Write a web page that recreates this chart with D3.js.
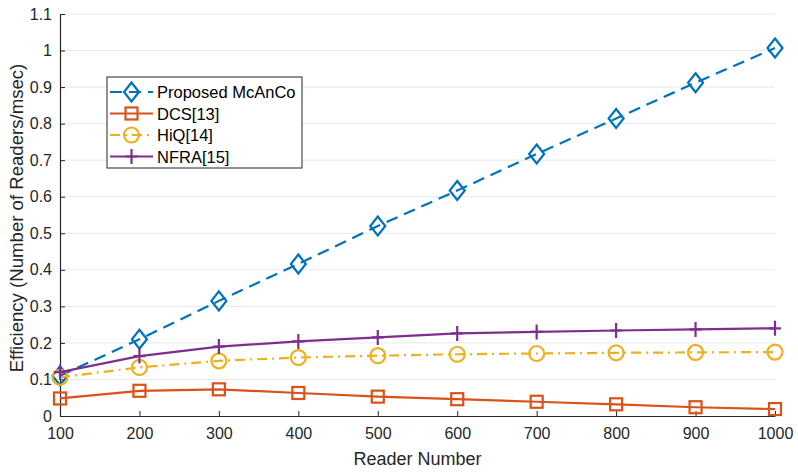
<!DOCTYPE html>
<html>
<head>
<meta charset="utf-8">
<script src="https://cdn.jsdelivr.net/npm/d3@7"></script>
<style>
  body { margin: 0; background: #fff; }
  svg { font-family: "Liberation Sans", Arial, sans-serif; }
</style>
</head>
<body>
<svg id="chart" width="798" height="473"></svg>
<script>
const readers = [100, 200, 300, 400, 500, 600, 700, 800, 900, 1000]
const mcanco = [0.11, 0.21, 0.315, 0.416, 0.52, 0.617, 0.717, 0.814, 0.912, 1.007]
const dcs = [0.048, 0.069, 0.073, 0.063, 0.053, 0.046, 0.039, 0.032, 0.024, 0.019]
const hiq = [0.106, 0.133, 0.151, 0.160, 0.165, 0.169, 0.171, 0.173, 0.174, 0.175]
const nfra = [0.12, 0.164, 0.19, 0.204, 0.215, 0.226, 0.23, 0.234, 0.237, 0.24]
const yTicks = [0, 0.1, 0.2, 0.3, 0.4, 0.5, 0.6, 0.7, 0.8, 0.9, 1, 1.1]

const series = [
  { name: 'Proposed McAnCo', values: mcanco, color: '#0072BD', dash: '12,7', marker: 'diamond' },
  { name: 'DCS[13]', values: dcs, color: '#D95319', dash: null, marker: 'square' },
  { name: 'HiQ[14]', values: hiq, color: '#EDB120', dash: '10,5,2,5', marker: 'circle' },
  { name: 'NFRA[15]', values: nfra, color: '#7E2F8E', dash: null, marker: 'plus' }
]

const margin = { left: 60, right: 23, top: 14, bottom: 57 }
const width = 798, height = 473
const svg = d3.select('#chart')

const x = d3.scaleLinear().domain([100, 1000]).range([margin.left, width - margin.right])
const y = d3.scaleLinear().domain([0, 1.1]).range([height - margin.bottom, margin.top])

// grid horizontal
svg.append('g')
  .selectAll('line')
  .data(yTicks.slice(1))
  .join('line')
  .attr('x1', x(100)).attr('x2', x(1000))
  .attr('y1', d => y(d)).attr('y2', d => y(d))
  .attr('stroke', '#e8e8e8')
  .attr('stroke-width', 1)

const xAxis = svg.append('g')
  .attr('transform', `translate(0,${y(0)})`)
  .call(d3.axisBottom(x).tickValues(readers).tickFormat(d3.format('d')).tickSizeInner(-5).tickSizeOuter(0).tickPadding(12))
const yAxis = svg.append('g')
  .attr('transform', `translate(${x(100)},0)`)
  .call(d3.axisLeft(y).tickValues(yTicks).tickFormat(d3.format('~g')).tickSizeInner(-5).tickSizeOuter(0).tickPadding(8))

for (const ax of [xAxis, yAxis]) {
  ax.select('.domain').attr('stroke', '#262626').attr('stroke-width', 1.2)
  ax.selectAll('.tick line').attr('stroke', '#262626')
  ax.selectAll('.tick text').attr('fill', '#262626').style('font-size', '16px')
}

svg.append('text')
  .attr('x', (x(100) + x(1000)) / 2).attr('y', 465)
  .attr('text-anchor', 'middle')
  .attr('fill', '#262626')
  .style('font-size', '18px')
  .text('Reader Number')

svg.append('text')
  .attr('transform', `translate(23,${(y(0) + y(1.1)) / 2 + 3}) rotate(-90)`)
  .attr('text-anchor', 'middle')
  .attr('fill', '#262626')
  .style('font-size', '18.6px')
  .text('Efficiency (Number of Readers/msec)')

function drawMarker(g, type, color) {
  if (type === 'diamond') {
    g.append('path').attr('d', 'M0,-9.5L7.5,0L0,9.5L-7.5,0Z')
  } else if (type === 'square') {
    g.append('rect').attr('x', -6).attr('y', -6).attr('width', 12).attr('height', 12)
  } else if (type === 'circle') {
    g.append('circle').attr('r', 7.5)
  } else {
    g.append('path').attr('d', 'M-6,0H6M0,-7.5V7.5')
  }
  g.selectAll('*')
    .attr('fill', 'none')
    .attr('stroke', color)
    .attr('stroke-width', 2.2)
}

const line = d3.line().x((d, i) => x(readers[i])).y(d => y(d))

series.forEach(s => {
  svg.append('path')
    .attr('d', line(s.values))
    .attr('fill', 'none')
    .attr('stroke', s.color)
    .attr('stroke-width', 2.2)
    .attr('stroke-dasharray', s.dash)
  s.values.forEach((v, i) => {
    const g = svg.append('g').attr('transform', `translate(${x(readers[i])},${y(v)})`)
    drawMarker(g, s.marker, s.color)
  })
})

// legend
const legend = svg.append('g').attr('transform', 'translate(107,77)')
legend.append('rect')
  .attr('width', 195).attr('height', 91)
  .attr('fill', '#fff')
  .attr('stroke', '#262626')
  .attr('stroke-width', 1)
series.forEach((s, i) => {
  const ly = 15 + i * 21.5
  legend.append('line')
    .attr('x1', 3).attr('x2', 46).attr('y1', ly).attr('y2', ly)
    .attr('stroke', s.color)
    .attr('stroke-width', 2.2)
    .attr('stroke-dasharray', s.marker === 'diamond' ? '12,7' : s.marker === 'circle' ? '10,5,2,5' : null)
  const g = legend.append('g').attr('transform', `translate(24.5,${ly})`)
  drawMarker(g, s.marker, s.color)
  legend.append('text')
    .attr('x', 50).attr('y', ly + 6)
    .attr('fill', '#000')
    .style('font-size', '16.5px')
    .text(s.name)
})
</script>
</body>
</html>
